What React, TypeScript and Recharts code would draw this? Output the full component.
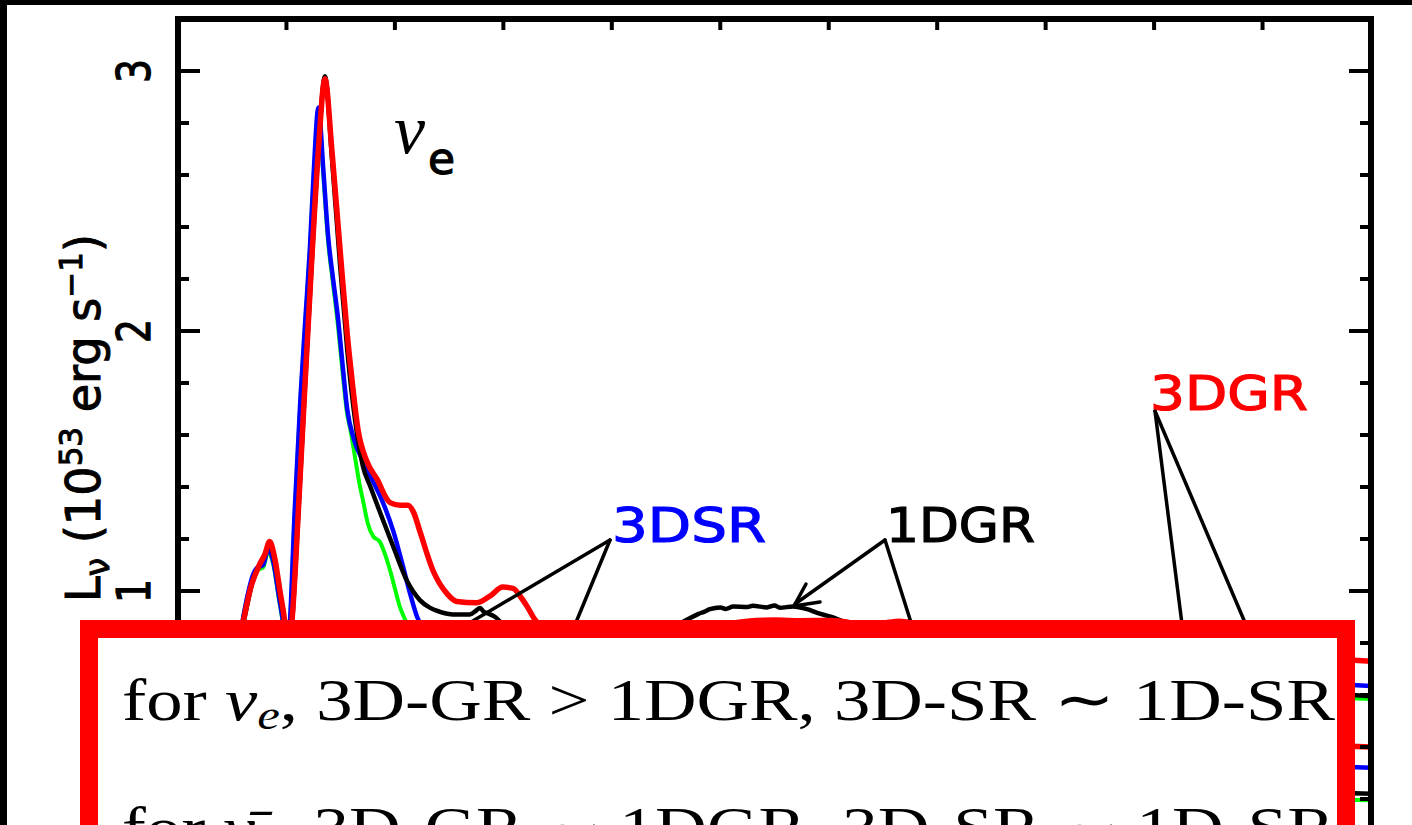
import React from 'react';
import { LineChart, Line, XAxis, YAxis } from 'recharts';

// ---------- data (time after bounce in ms, luminosity in 1e53 erg/s) ----------
const xTicks = [-20, 0, 20, 40, 60, 80, 100, 120, 140, 160, 180, 200];
const yTicks = [0, 0.2, 0.4, 0.6, 0.8, 1, 1.2, 1.4, 1.6, 1.8, 2, 2.2, 2.4, 2.6, 2.8, 3, 3.2];
const yMajorLabels = [1, 2, 3];

// 3D-GR, nu_e (red)
const tRed = [-20, -15, -11, -8.2, -6.5, -5, -4, -3.1, -2.2, -1.2, -0.3, 0.3, 1.0, 2.3, 3.3, 4.6, 5.9, 7.1, 8.4, 9.9, 11.2, 12.1, 13.2, 14.8, 16.7, 19.1, 21.0, 22.4, 23.5, 24.6, 27.0, 29.6, 31.4, 35.1, 37.5, 39.9, 41.8, 43.1, 44.4, 45.8, 48, 52, 60, 70, 78, 85, 90, 95, 100, 103, 106, 110, 113, 116, 120, 130, 145, 160, 180, 200];
const lRed = [0.32, 0.42, 0.6, 0.86, 1.02, 1.1, 1.14, 1.19, 1.13, 1.0, 0.88, 0.76, 0.88, 1.35, 1.75, 2.25, 2.7, 2.97, 2.69, 2.31, 1.99, 1.81, 1.62, 1.5, 1.43, 1.34, 1.33, 1.33, 1.3, 1.23, 1.08, 0.99, 0.96, 0.955, 0.98, 1.015, 1.01, 0.98, 0.94, 0.89, 0.84, 0.8, 0.79, 0.82, 0.86, 0.884, 0.888, 0.886, 0.887, 0.882, 0.87, 0.876, 0.884, 0.875, 0.86, 0.83, 0.8, 0.78, 0.755, 0.73];

// 1D-GR, nu_e (black)
const tBlack = [-20, -15, -11, -8.0, -6.3, -5, -4, -3.1, -2.2, -1.2, -0.3, 0.3, 1.0, 2.3, 3.3, 4.6, 5.9, 7.1, 8.4, 9.9, 11.2, 12.1, 13.2, 14.1, 15.5, 17.3, 19.7, 22.2, 24.6, 26.5, 28.3, 30.7, 33.8, 35.0, 35.7, 36.4, 37.0, 38.5, 40, 45, 55, 65, 70, 73.9, 76, 77, 78.1, 80, 81, 82.4, 85, 86, 88.6, 90, 91, 93.4, 96, 98, 100.5, 104, 110, 125, 150, 175, 200];
const lBlack = [0.32, 0.42, 0.6, 0.87, 1.03, 1.1, 1.14, 1.18, 1.12, 0.99, 0.87, 0.75, 0.87, 1.34, 1.74, 2.24, 2.7, 2.98, 2.66, 2.25, 1.93, 1.75, 1.58, 1.48, 1.4, 1.3, 1.17, 1.04, 0.965, 0.935, 0.92, 0.91, 0.91, 0.925, 0.935, 0.92, 0.915, 0.9, 0.87, 0.83, 0.8, 0.82, 0.85, 0.89, 0.912, 0.92, 0.93, 0.937, 0.931, 0.94, 0.938, 0.943, 0.937, 0.944, 0.936, 0.94, 0.93, 0.915, 0.9, 0.87, 0.82, 0.74, 0.68, 0.63, 0.595];

// 3D-SR, nu_e (blue)
const tBlue = [-20, -15, -11, -8.5, -7.2, -6.2, -5.4, -4.3, -3.4, -2.4, -1.4, -0.5, 0.1, 0.6, 1.5, 2.6, 3.5, 4.3, 5.0, 5.9, 6.8, 7.7, 8.6, 9.5, 10.4, 11.2, 12.5, 14.1, 16.0, 17.8, 19.7, 21.3, 22.8, 24.1, 26, 30, 40, 50, 70, 100, 130, 160, 200];
const lBlue = [0.31, 0.4, 0.58, 0.84, 0.98, 1.06, 1.09, 1.1, 1.16, 1.11, 0.98, 0.86, 0.74, 0.86, 1.3, 1.75, 2.05, 2.31, 2.6, 2.86, 2.62, 2.36, 2.2, 2.05, 1.86, 1.7, 1.58, 1.5, 1.42, 1.34, 1.23, 1.11, 0.99, 0.9, 0.84, 0.8, 0.82, 0.84, 0.83, 0.78, 0.72, 0.68, 0.635];

// 1D-SR, nu_e (green)
const tGreen = [-20, -15, -11, -8.5, -7.2, -6.2, -5.4, -4.3, -3.4, -2.4, -1.4, -0.5, 0.1, 0.6, 1.5, 2.6, 3.5, 4.3, 5.0, 5.9, 6.8, 7.7, 8.6, 9.5, 10.4, 11.2, 11.8, 12.6, 13.4, 14.2, 15.0, 16.0, 17.2, 18.2, 19.1, 20.0, 20.9, 21.9, 23, 26, 30, 40, 60, 90, 120, 160, 200];
const lGreen = [0.31, 0.4, 0.58, 0.84, 0.98, 1.05, 1.08, 1.09, 1.15, 1.1, 0.97, 0.85, 0.73, 0.85, 1.29, 1.74, 2.04, 2.3, 2.58, 2.84, 2.6, 2.34, 2.18, 2.02, 1.83, 1.68, 1.62, 1.52, 1.42, 1.34, 1.26, 1.21, 1.19, 1.14, 1.08, 1.01, 0.94, 0.89, 0.84, 0.8, 0.78, 0.8, 0.79, 0.74, 0.68, 0.62, 0.585];

// second (lower) set of curves, visible only at the right edge
const tLow = [-20, -5, 0, 5, 10, 20, 40, 70, 100, 130, 160, 200];
const lRedLow = [0.0, 0.01, 0.05, 0.3, 0.5, 0.6, 0.58, 0.55, 0.5, 0.46, 0.43, 0.40];
const lBlueLow = [0.0, 0.01, 0.05, 0.28, 0.48, 0.57, 0.54, 0.48, 0.42, 0.38, 0.35, 0.32];
const lBlackLow = [0.0, 0.01, 0.04, 0.25, 0.45, 0.52, 0.46, 0.38, 0.32, 0.27, 0.245, 0.22];
const lGreenLow = [0.0, 0.01, 0.04, 0.24, 0.44, 0.5, 0.44, 0.36, 0.3, 0.25, 0.22, 0.195];

const toPts = (ts: number[], vs: number[]) => ts.map((t, i) => ({ t, v: vs[i] }));

const redData = toPts(tRed, lRed);
const blackData = toPts(tBlack, lBlack);
const blueData = toPts(tBlue, lBlue);
const greenData = toPts(tGreen, lGreen);
const redLow = toPts(tLow, lRedLow);
const blueLow = toPts(tLow, lBlueLow);
const blackLow = toPts(tLow, lBlackLow);
const greenLow = toPts(tLow, lGreenLow);

// ---------- layout ----------
const W = 1412;
const H = 825;
const CHART_H = 900;
const PL = 178;
const PR = 1371;
const PT = 19;
const PB = 851;

const SANS = 'DejaVu Sans, Verdana, sans-serif';
const SERIF = 'Liberation Serif, Times New Roman, serif';

function LeftTick(props: any) {
  const { y, payload } = props;
  const v = payload.value;
  if (v <= 0 || v >= 3.2) return <g />;
  const major = yMajorLabels.includes(v);
  return (
    <g>
      <line x1={PL} x2={PL + (major ? 22 : 11)} y1={y} y2={y} stroke="#000" strokeWidth={4} />
      {major && (
        <text
          transform={`translate(150 ${y}) rotate(-90)`}
          textAnchor="middle"
          fontFamily={SANS}
          fontSize={47}
          fill="#000"
          stroke="#000"
          strokeWidth={1.2}
          textLength={24}
          lengthAdjust="spacingAndGlyphs"
        >
          {v}
        </text>
      )}
    </g>
  );
}

function RightTick(props: any) {
  const { y, payload } = props;
  const v = payload.value;
  if (v <= 0 || v >= 3.2) return <g />;
  const major = yMajorLabels.includes(v);
  return <line x1={PR} x2={PR - (major ? 22 : 11)} y1={y} y2={y} stroke="#000" strokeWidth={4} />;
}

function TopTick(props: any) {
  const { x, payload } = props;
  const v = payload.value;
  if (v <= -20 || v >= 200) return <g />;
  return <line x1={x} x2={x} y1={PT} y2={PT + 11} stroke="#000" strokeWidth={4} />;
}

function BottomTick(props: any) {
  const { x, payload } = props;
  const v = payload.value;
  if (v <= -20 || v >= 200) return <g />;
  return <line x1={x} x2={x} y1={PB} y2={PB - 11} stroke="#000" strokeWidth={4} />;
}

const axisLineStyle = { stroke: '#000', strokeWidth: 6, strokeLinecap: 'square' as const };

export default function App() {
  return (
    <div style={{ position: 'absolute', left: 0, top: 0, width: W, height: H, overflow: 'hidden', background: '#000' }}>
      <div style={{ position: 'absolute', left: 7, top: 5, right: 0, bottom: 0, background: '#fff' }} />
      <div style={{ position: 'absolute', left: 0, top: 0 }}>
        <LineChart width={W} height={CHART_H} margin={{ top: 0, right: 0, bottom: 0, left: 0 }}>
          <XAxis
            xAxisId="bottom"
            dataKey="t"
            type="number"
            domain={[-20, 200]}
            ticks={xTicks}
            allowDataOverflow
            orientation="bottom"
            height={CHART_H - PB}
            axisLine={axisLineStyle}
            tickLine={false}
            tick={BottomTick}
            interval={0}
          />
          <XAxis
            xAxisId="top"
            dataKey="t"
            type="number"
            domain={[-20, 200]}
            ticks={xTicks}
            allowDataOverflow
            orientation="top"
            height={PT}
            axisLine={axisLineStyle}
            tickLine={false}
            tick={TopTick}
            interval={0}
          />
          <YAxis
            yAxisId="left"
            type="number"
            domain={[0, 3.2]}
            ticks={yTicks}
            allowDataOverflow
            orientation="left"
            width={PL}
            axisLine={axisLineStyle}
            tickLine={false}
            tick={LeftTick}
            interval={0}
          />
          <YAxis
            yAxisId="right"
            type="number"
            domain={[0, 3.2]}
            ticks={yTicks}
            allowDataOverflow
            orientation="right"
            width={W - PR}
            axisLine={axisLineStyle}
            tickLine={false}
            tick={RightTick}
            interval={0}
          />
          <Line data={greenLow} dataKey="v" xAxisId="bottom" yAxisId="left" type="monotone" stroke="#00ff00" strokeWidth={4} dot={false} isAnimationActive={false} />
          <Line data={blackLow} dataKey="v" xAxisId="bottom" yAxisId="left" type="monotone" stroke="#000000" strokeWidth={4.5} dot={false} isAnimationActive={false} />
          <Line data={blueLow} dataKey="v" xAxisId="bottom" yAxisId="left" type="monotone" stroke="#0000ff" strokeWidth={4.5} dot={false} isAnimationActive={false} />
          <Line data={redLow} dataKey="v" xAxisId="bottom" yAxisId="left" type="monotone" stroke="#ff0000" strokeWidth={5.5} dot={false} isAnimationActive={false} />
          <Line data={greenData} dataKey="v" xAxisId="bottom" yAxisId="left" type="monotone" stroke="#00ff00" strokeWidth={4} dot={false} isAnimationActive={false} />
          <Line data={blueData} dataKey="v" xAxisId="bottom" yAxisId="left" type="monotone" stroke="#0000ff" strokeWidth={4.5} dot={false} isAnimationActive={false} />
          <Line data={blackData} dataKey="v" xAxisId="bottom" yAxisId="left" type="monotone" stroke="#000000" strokeWidth={4.5} dot={false} isAnimationActive={false} />
          <Line data={redData} dataKey="v" xAxisId="bottom" yAxisId="left" type="monotone" stroke="#ff0000" strokeWidth={5.5} dot={false} isAnimationActive={false} />
        </LineChart>
      </div>
      <svg width={W} height={H} style={{ position: 'absolute', left: 0, top: 0 }}>
        {/* y-axis title */}
        <text transform="translate(100 602) rotate(-90)" fontFamily={SANS} fontSize={48} fill="#000" stroke="#000" strokeWidth={1} textLength={368} lengthAdjust="spacingAndGlyphs">
          L<tspan fontSize={34} dy={9}>ν</tspan>
          <tspan dy={-9}> (10</tspan>
          <tspan fontSize={32} dy={-18}>53</tspan>
          <tspan dy={18}> erg s</tspan>
          <tspan fontSize={32} dy={-18}>−1</tspan>
          <tspan dy={18}>)</tspan>
        </text>
        {/* panel label */}
        <text x={394} y={153} fontFamily={SERIF} fontStyle="italic" fontSize={70} fill="#000">ν</text>
        <text x={428} y={174} fontFamily={SANS} fontSize={44} fill="#000" stroke="#000" strokeWidth={1.2}>e</text>
        {/* annotation pointers */}
        <g stroke="#000" strokeWidth={3.5} strokeLinecap="round" fill="none">
          <line x1={610} y1={540} x2={466} y2={625} />
          <line x1={610} y1={540} x2={572} y2={632} />
          <line x1={885} y1={540} x2={795} y2={604} />
          <polyline points="806,584 794,606 820,602" strokeLinejoin="miter" />
          <line x1={885} y1={540} x2={914} y2={632} />
          <line x1={1155} y1={411} x2={1183} y2={632} />
          <line x1={1155} y1={411} x2={1249} y2={632} />
        </g>
        <text x={612} y={542} fill="#0000ff" stroke="#0000ff" strokeWidth={1.2} fontFamily={SANS} fontSize={48} textLength={154} lengthAdjust="spacingAndGlyphs">3DSR</text>
        <text x={886} y={542} fill="#000" stroke="#000" strokeWidth={1.2} fontFamily={SANS} fontSize={48} textLength={149} lengthAdjust="spacingAndGlyphs">1DGR</text>
        <text x={1150} y={410} fill="#ff0000" stroke="#ff0000" strokeWidth={1.2} fontFamily={SANS} fontSize={48} textLength={158} lengthAdjust="spacingAndGlyphs">3DGR</text>
        {/* overlay note box */}
        <rect x={89} y={629} width={1257} height={420} fill="#fff" stroke="#ff0000" strokeWidth={18} />
        <text x={122} y={720} fontFamily={SERIF} fontSize={60} fill="#000" textLength={1213} lengthAdjust="spacingAndGlyphs">
          for <tspan fontStyle="italic">ν</tspan>
          <tspan fontStyle="italic" fontSize={42} dy={9}>e</tspan>
          <tspan dy={-9}>, 3D-GR &gt; 1DGR, 3D-SR ∼ 1D-SR</tspan>
        </text>
        <text x={122} y={848} fontFamily={SERIF} fontSize={60} fill="#000" textLength={1213} lengthAdjust="spacingAndGlyphs">
          for <tspan fontStyle="italic">ν̄</tspan>
          <tspan fontStyle="italic" fontSize={42} dy={9}>e</tspan>
          <tspan dy={-9}>, 3D-GR ∼ 1DGR, 3D-SR ∼ 1D-SR</tspan>
        </text>
      </svg>
    </div>
  );
}
